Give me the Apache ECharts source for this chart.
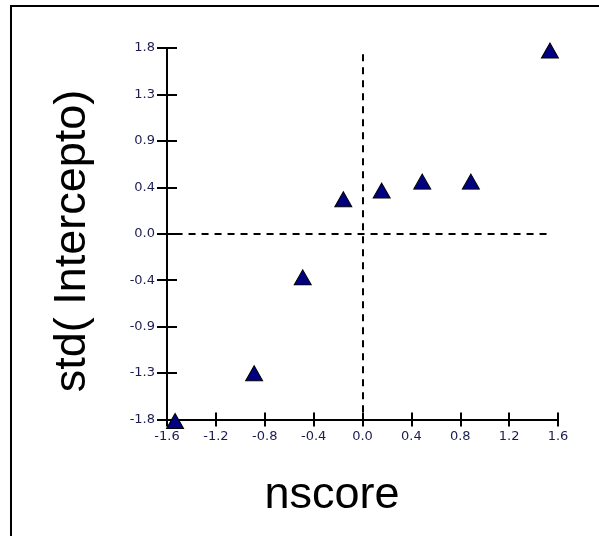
<!DOCTYPE html>
<html>
<head>
<meta charset="utf-8">
<script src="https://cdn.jsdelivr.net/npm/echarts@6/dist/echarts.min.js"></script>
<style>html,body{margin:0;padding:0;background:#fff}#c{width:599px;height:536px}</style>
</head>
<body>
<div id="c"></div>
<script>
// Data
var nscore = [-1.534, -0.887, -0.489, -0.157, 0.157, 0.489, 0.887, 1.534];
var stdIntercept = [-1.815, -1.352, -0.423, 0.334, 0.418, 0.505, 0.505, 1.776];
var xTickLabels = ['-1.6', '-1.2', '-0.8', '-0.4', '0.0', '0.4', '0.8', '1.2', '1.6'];
var yTickLabels = ['-1.8', '-1.3', '-0.9', '-0.4', '0.0', '0.4', '0.9', '1.3', '1.8'];
var xTitle = 'nscore';
var yTitle = 'std( Intercepto)';
// reference (dashed) lines extents
var hRefLine = [[-1.53, 0], [1.53, 0]];
var vRefLine = [[0, -1.73], [0, 1.74]];

var X_MIN = -1.6, X_MAX = 1.6, X_INT = 0.4;
var Y_MIN = -1.8, Y_MAX = 1.8, Y_INT = 0.45;

function xLab(v) { return xTickLabels[Math.round((v - X_MIN) / X_INT)] || ''; }
function yLab(v) { return yTickLabels[Math.round((v - Y_MIN) / Y_INT)] || ''; }

var points = nscore.map(function (x, i) { return [x, stdIntercept[i]]; });

var labelStyle = { color: '#1c1c50', fontSize: 13, fontFamily: '"DejaVu Sans", Verdana, sans-serif' };

var chart = echarts.init(document.getElementById('c'), null, { renderer: 'canvas' });
chart.setOption({
  animation: false,
  backgroundColor: '#ffffff',
  grid: { left: 167, right: 41, top: 48, bottom: 116.5, containLabel: false },
  xAxis: [{
    type: 'value', min: X_MIN, max: X_MAX, interval: X_INT,
    axisLine: { show: true, onZero: false, lineStyle: { color: '#000', width: 2 } },
    axisTick: { show: true, length: 7, lineStyle: { color: '#000', width: 2 } },
    axisLabel: Object.assign({ margin: 11, formatter: xLab }, labelStyle),
    splitLine: { show: false }
  }, {
    type: 'value', min: X_MIN, max: X_MAX, interval: X_INT, position: 'bottom',
    axisLine: { show: false, onZero: false },
    axisTick: { show: true, inside: true, length: 7, lineStyle: { color: '#000', width: 2 } },
    axisLabel: { show: false }, splitLine: { show: false }
  }],
  yAxis: [{
    type: 'value', min: Y_MIN, max: Y_MAX, interval: Y_INT,
    axisLine: { show: true, onZero: false, lineStyle: { color: '#000', width: 2 } },
    axisTick: { show: true, length: 10, lineStyle: { color: '#000', width: 2 } },
    axisLabel: Object.assign({ margin: 12, formatter: yLab }, labelStyle),
    splitLine: { show: false }
  }, {
    type: 'value', min: Y_MIN, max: Y_MAX, interval: Y_INT, position: 'left',
    axisLine: { show: false, onZero: false },
    axisTick: { show: true, inside: true, length: 10, lineStyle: { color: '#000', width: 2 } },
    axisLabel: { show: false }, splitLine: { show: false }
  }],
  series: [{
    type: 'scatter',
    xAxisIndex: 0, yAxisIndex: 0,
    clip: false,
    symbol: 'triangle',
    symbolSize: [17, 15],
    itemStyle: { color: '#000080', borderColor: '#000000', borderWidth: 1, opacity: 1 },
    data: points,
    z: 5,
    markLine: {
      silent: true, symbol: ['none', 'none'], label: { show: false },
      lineStyle: { color: '#000', width: 2, type: [7, 6] },
      data: [
        [{ coord: hRefLine[0] }, { coord: hRefLine[1] }],
        [{ coord: vRefLine[0] }, { coord: vRefLine[1] }]
      ]
    }
  }],
  graphic: [
    { type: 'line', shape: { x1: 10, y1: 6, x2: 599, y2: 6 }, style: { stroke: '#000', lineWidth: 2 } },
    { type: 'line', shape: { x1: 11, y1: 5, x2: 11, y2: 536 }, style: { stroke: '#000', lineWidth: 2 } },
    { type: 'text', x: 332, y: 496, style: { text: xTitle, fill: '#000', font: '45px "Liberation Sans", Arial, sans-serif', textAlign: 'center', textVerticalAlign: 'middle' } },
    { type: 'text', x: 73, y: 241, rotation: Math.PI / 2, style: { text: yTitle, fill: '#000', font: '45px "Liberation Sans", Arial, sans-serif', textAlign: 'center', textVerticalAlign: 'middle' } }
  ]
});
</script>
</body>
</html>
